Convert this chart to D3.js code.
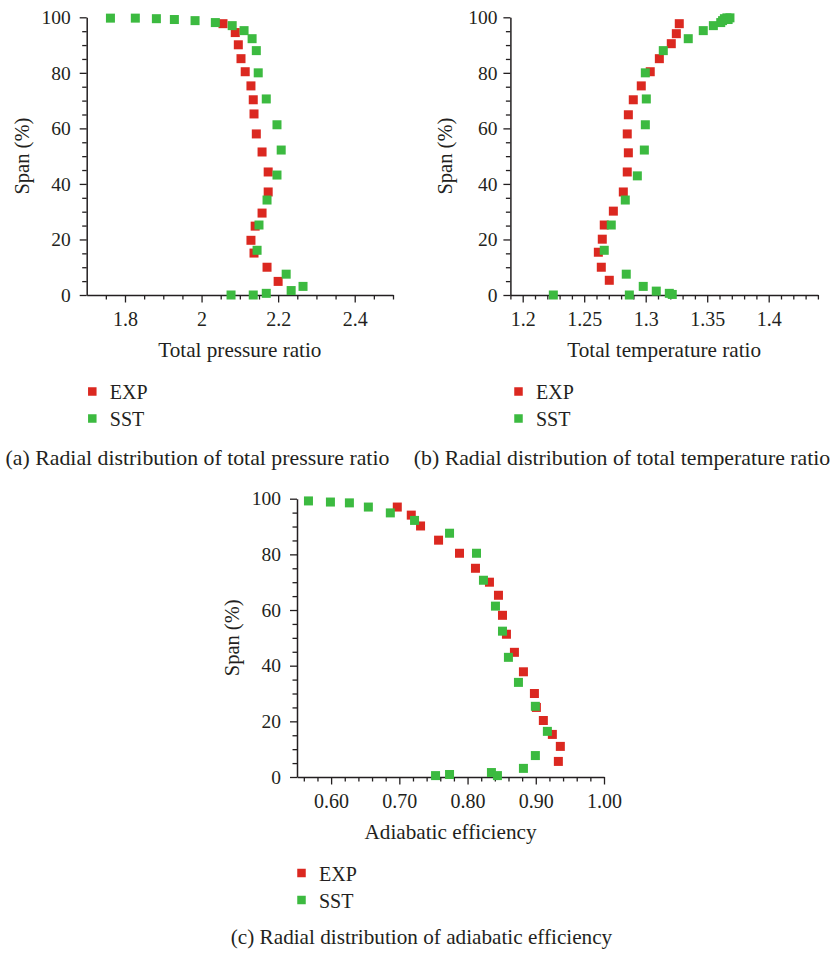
<!DOCTYPE html>
<html>
<head>
<meta charset="utf-8">
<script src="https://cdn.jsdelivr.net/npm/d3@7"></script>
<style>
  body { margin: 0; background: #fff; }
  svg { display: block; }
  text { font-family: "Liberation Serif", "DejaVu Serif", serif; fill: #231f20; }
</style>
</head>
<body>
<svg id="fig" width="834" height="953"></svg>
<script>
// ---- shared ----
const seriesNames = ["EXP", "SST"];
const seriesColors = ["#db2820", "#3cba40"];
const spanTicks = [0, 20, 40, 60, 80, 100];
const spanMinorTicks = [5, 10, 15, 25, 30, 35, 45, 50, 55, 65, 70, 75, 85, 90, 95];
const spanTitle = "Span (%)";

// ---- (a) total pressure ratio ----
const prTicks = [1.8, 2.0, 2.2, 2.4];
const prMinorTicks = [1.75, 1.85, 1.9, 1.95, 2.05, 2.1, 2.15, 2.25, 2.3, 2.35, 2.45, 2.5];
const prExpX = [2.056, 2.088, 2.096, 2.103, 2.114, 2.129, 2.135, 2.137, 2.143, 2.158, 2.174, 2.174, 2.158, 2.140, 2.129, 2.137, 2.171, 2.200];
const prExpSpan = [97.7, 94.5, 90.1, 85.1, 80.4, 75.3, 70.3, 65.2, 58.0, 51.5, 44.3, 37.1, 29.5, 24.8, 19.7, 15.1, 10.0, 4.9];
const prSstX = [1.762, 1.827, 1.882, 1.929, 1.983, 2.036, 2.080, 2.111, 2.132, 2.143, 2.148, 2.169, 2.197, 2.208, 2.197, 2.171, 2.150, 2.145, 2.221, 2.265, 2.234, 2.169, 2.135, 2.077];
const prSstSpan = [99.7, 99.7, 99.5, 99.2, 98.8, 98.1, 97.0, 95.2, 92.3, 88.0, 80.0, 70.6, 61.3, 52.2, 43.2, 34.2, 25.2, 16.1, 7.5, 3.1, 1.6, 0.6, 0, 0];

// ---- (b) total temperature ratio ----
const trTicks = [1.2, 1.25, 1.3, 1.35, 1.4];
const trMinorTicks = [1.19, 1.21, 1.22, 1.23, 1.24, 1.26, 1.27, 1.28, 1.29, 1.31, 1.32, 1.33, 1.34, 1.36, 1.37, 1.38, 1.39, 1.41, 1.42, 1.43, 1.44];
const trExpX = [1.3273, 1.3249, 1.3208, 1.3111, 1.3037, 1.2964, 1.2899, 1.2859, 1.2850, 1.2859, 1.2850, 1.2818, 1.2737, 1.2663, 1.2647, 1.2615, 1.2639, 1.2704];
const trExpSpan = [97.7, 94.1, 90.5, 85.1, 80.4, 75.3, 70.3, 64.9, 58.0, 51.2, 44.3, 37.1, 30.2, 25.2, 20.1, 15.4, 10.0, 5.3];
const trSstX = [1.3685, 1.3660, 1.3640, 1.3670, 1.3625, 1.3610, 1.3550, 1.3468, 1.3346, 1.3143, 1.2997, 1.3005, 1.2997, 1.2989, 1.2932, 1.2834, 1.2720, 1.2663, 1.2842, 1.2980, 1.3086, 1.3192, 1.3216, 1.2867, 1.2249];
const trSstSpan = [99.8, 99.8, 99.5, 99.2, 98.8, 98.1, 97.0, 95.2, 92.3, 88.0, 80.0, 70.6, 61.3, 52.2, 42.9, 34.2, 25.2, 16.1, 7.5, 3.1, 1.4, 0.6, 0.2, 0, 0];

// ---- (c) adiabatic efficiency ----
const effTicks = [0.60, 0.70, 0.80, 0.90, 1.00];
const effMinorTicks = [0.56, 0.58, 0.62, 0.64, 0.66, 0.68, 0.72, 0.74, 0.76, 0.78, 0.82, 0.84, 0.86, 0.88, 0.92, 0.94, 0.96, 0.98];
const effExpX = [0.697, 0.7175, 0.7311, 0.7575, 0.7882, 0.8116, 0.8321, 0.8453, 0.8512, 0.857, 0.8687, 0.8819, 0.898, 0.9009, 0.9111, 0.9243, 0.936, 0.9331];
const effExpSpan = [97.0, 94.1, 90.2, 85.1, 80.4, 75.0, 70.0, 65.3, 58.1, 51.3, 44.8, 37.8, 30.0, 25.0, 20.3, 15.3, 11.0, 5.6];
const effSstX = [0.5668, 0.599, 0.6268, 0.6546, 0.6868, 0.7223, 0.7736, 0.8131, 0.8233, 0.8409, 0.8512, 0.8599, 0.8746, 0.8994, 0.917, 0.8994, 0.8819, 0.835, 0.8438, 0.7736, 0.7531];
const effSstSpan = [99.2, 98.8, 98.5, 97.0, 94.9, 92.2, 87.6, 80.4, 70.7, 61.4, 52.4, 43.0, 34.0, 25.4, 16.4, 7.7, 3.1, 1.6, 0.5, 0.9, 0.5];

const captions = [
  "(a) Radial distribution of total pressure ratio",
  "(b) Radial distribution of total temperature ratio",
  "(c) Radial distribution of adiabatic efficiency"
];
const xTitles = ["Total pressure ratio", "Total temperature ratio", "Adiabatic efficiency"];

const svg = d3.select("#fig");
const INK = "#231f20";
const MARK = 9;

function panel(cfg) {
  const g = svg.append("g");
  const x = d3.scaleLinear().domain(cfg.xDomain).range(cfg.xRange);
  const y = d3.scaleLinear().domain([0, 100]).range(cfg.yRange);
  const [yBottom, yTop] = cfg.yRange;

  // y axis: labelled majors + short minors
  const yMinor = g.append("g").attr("transform", `translate(${cfg.xRange[0]},0)`)
    .call(d3.axisLeft(y).tickValues(spanMinorTicks).tickSize(4.5).tickFormat(""));
  yMinor.select(".domain").remove();
  const yMajor = g.append("g").attr("transform", `translate(${cfg.xRange[0]},0)`)
    .call(d3.axisLeft(y).tickValues(spanTicks).tickSize(7).tickSizeOuter(0).tickPadding(cfg.yPad));
  yMajor.selectAll("text").style("font-size", "19.5px");

  // x axis
  const xMinor = g.append("g").attr("transform", `translate(0,${yBottom})`)
    .call(d3.axisBottom(x).tickValues(cfg.xMinor).tickSize(4.5).tickFormat(""));
  xMinor.select(".domain").remove();
  const xMajor = g.append("g").attr("transform", `translate(0,${yBottom})`)
    .call(d3.axisBottom(x).tickValues(cfg.xTicks).tickSize(7.5).tickSizeOuter(0).tickPadding(9).tickFormat(cfg.fmt));
  xMajor.selectAll("text").style("font-size", "20px").attr("dy", "0.71em");

  g.selectAll(".domain").attr("stroke", INK).attr("stroke-width", 1.5);
  g.selectAll(".tick line").attr("stroke", INK).attr("stroke-width", 1.3);
  g.selectAll(".tick text").attr("fill", INK);

  // axis titles
  g.append("text")
    .attr("transform", `translate(${cfg.xRange[0] - 58},${(yBottom + yTop) / 2}) rotate(-90)`)
    .attr("text-anchor", "middle").style("font-size", "20.5px").text(spanTitle);
  g.append("text")
    .attr("x", (cfg.xRange[0] + cfg.xRange[1]) / 2).attr("y", yBottom + 62)
    .attr("text-anchor", "middle").style("font-size", "21.2px").text(cfg.xTitle);

  // markers: EXP first, SST on top
  cfg.series.forEach((s, i) => {
    g.append("g").selectAll("rect")
      .data(d3.zip(s[0], s[1]))
      .join("rect")
      .attr("x", d => x(d[0]) - MARK / 2)
      .attr("y", d => y(d[1]) - MARK / 2)
      .attr("width", MARK).attr("height", MARK)
      .attr("fill", seriesColors[i]);
  });

  // legend
  const lg = g.append("g").attr("transform", `translate(${cfg.legend[0]},${cfg.legend[1]})`);
  seriesNames.forEach((name, i) => {
    lg.append("rect").attr("x", -4.25).attr("y", i * 27 - 4.25)
      .attr("width", 8.5).attr("height", 8.5).attr("fill", seriesColors[i]);
    lg.append("text").attr("x", 17.5).attr("y", i * 27 + 7.5)
      .style("font-size", "20px").text(name);
  });

  // caption, centred under its panel
  g.append("text").attr("x", cfg.caption[0]).attr("y", cfg.caption[1])
    .attr("text-anchor", "middle")
    .style("font-size", cfg.captionSize + "px").text(cfg.captionText);
}

const fmtPlain = d => String(+d.toFixed(2));

panel({
  xDomain: [1.7, 2.5], xRange: [86.7, 393], yRange: [295, 17.3],
  xTicks: prTicks, xMinor: prMinorTicks, fmt: fmtPlain, yPad: 9,
  xTitle: xTitles[0],
  series: [[prExpX, prExpSpan], [prSstX, prSstSpan]],
  legend: [92.3, 391.5], caption: [197.5, 465], captionSize: 21.8, captionText: captions[0]
});

panel({
  xDomain: [1.19, 1.44], xRange: [510.4, 817.9], yRange: [295, 17.3],
  xTicks: trTicks, xMinor: trMinorTicks, fmt: fmtPlain, yPad: 6,
  xTitle: xTitles[1],
  series: [[trExpX, trExpSpan], [trSstX, trSstSpan]],
  legend: [518.5, 391.5], caption: [622, 465], captionSize: 21.8, captionText: captions[1]
});

panel({
  xDomain: [0.55, 1.0], xRange: [297, 604], yRange: [777, 498.7],
  xTicks: effTicks, xMinor: effMinorTicks, fmt: d3.format(".2f"), yPad: 9,
  xTitle: xTitles[2],
  series: [[effExpX, effExpSpan], [effSstX, effSstSpan]],
  legend: [301.5, 873], caption: [421.5, 944], captionSize: 21.2, captionText: captions[2]
});
</script>
</body>
</html>
